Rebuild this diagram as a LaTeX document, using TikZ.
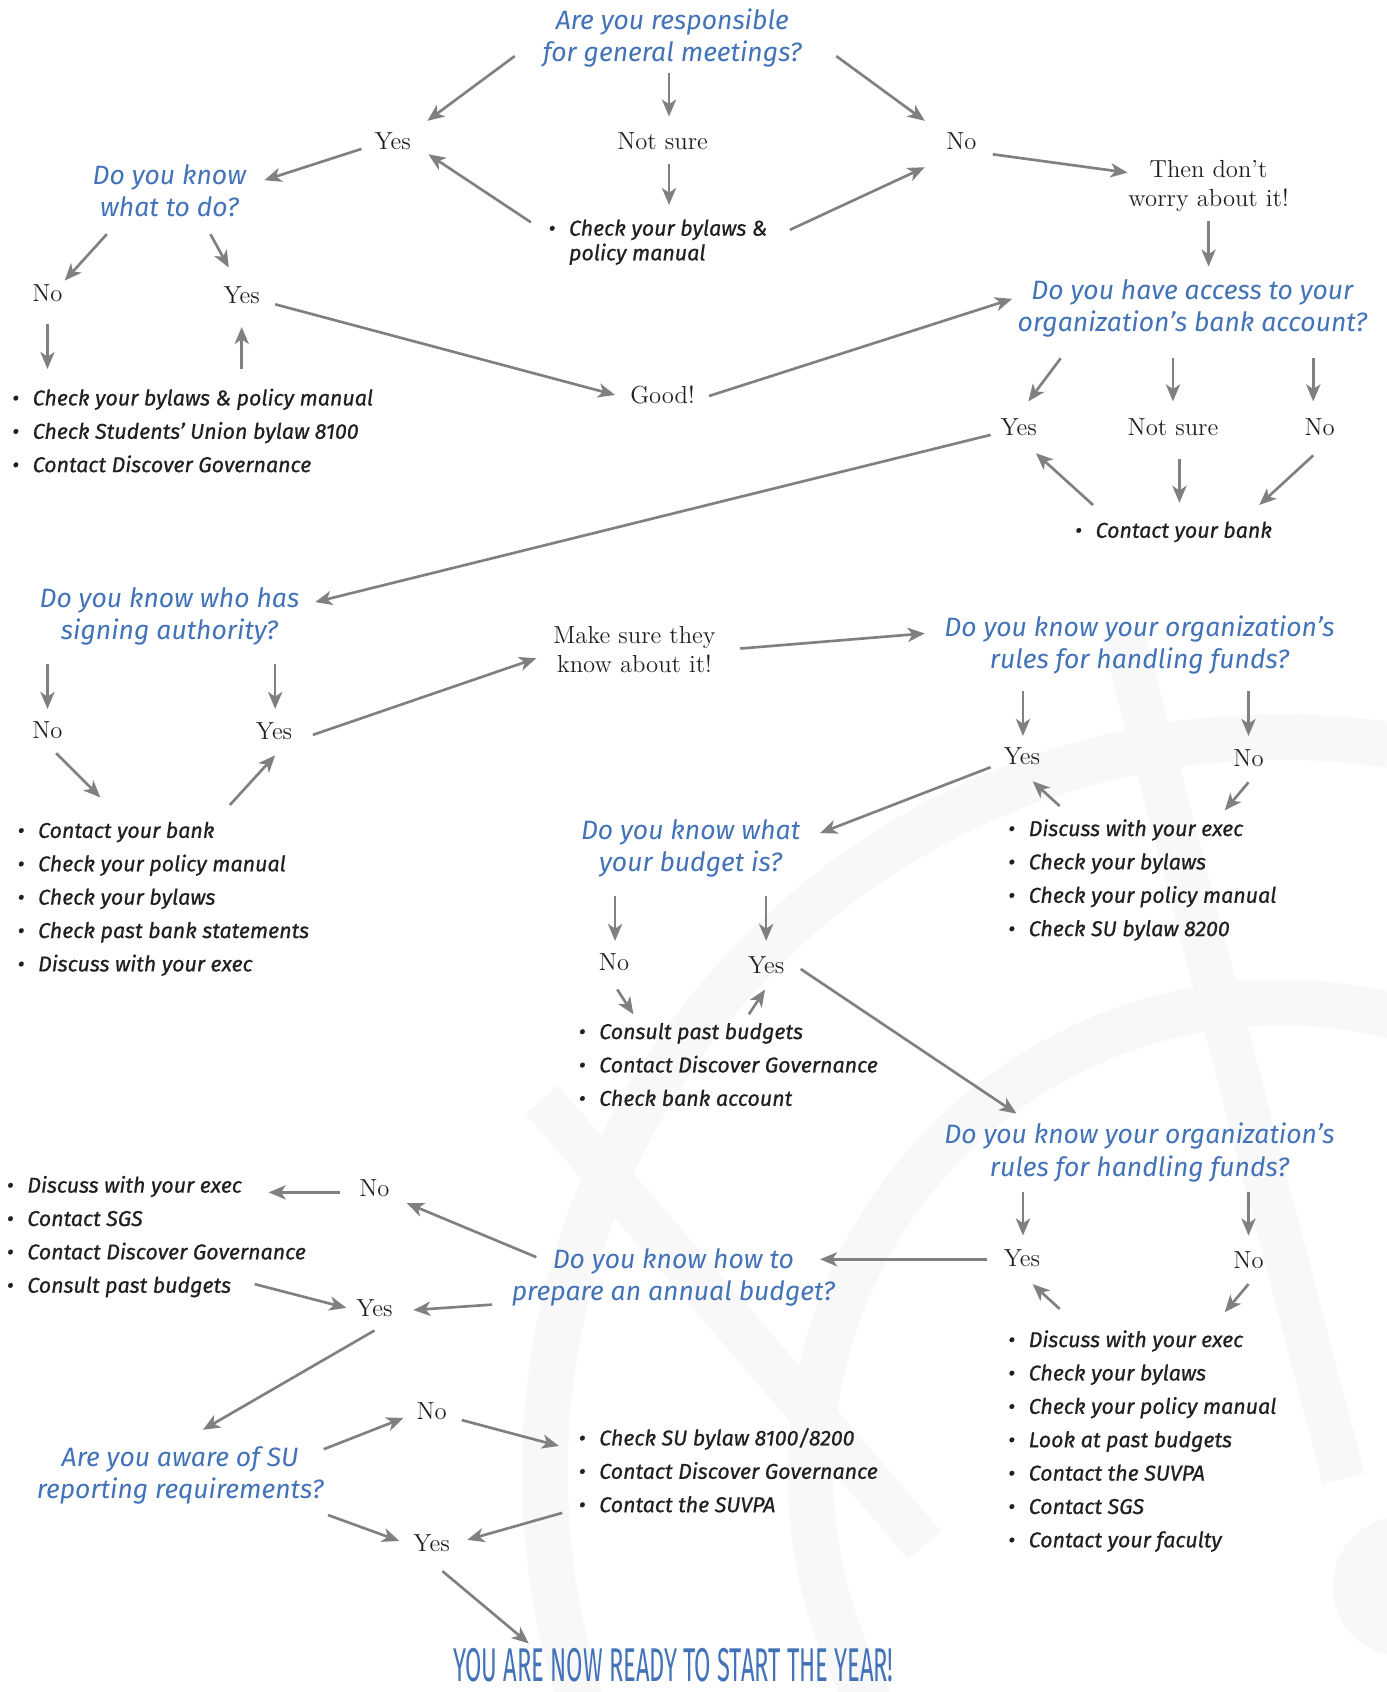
\documentclass[tikz,border=0pt]{standalone}
\usepackage{fontspec}
\usepackage{tikz}
\usetikzlibrary{arrows.meta,calc}

\newfontfamily\qfont{Fira Sans}
\newfontfamily\itemfont{Fira Sans}[FakeBold=0.8]
\newfontfamily\endfont{Fira Sans}[FakeStretch=0.5]

\definecolor{qblue}{RGB}{66,114,184}
\definecolor{arrgray}{RGB}{128,128,128}
\definecolor{tdark}{RGB}{35,31,32}
\definecolor{wmgray}{RGB}{248,248,248}

\newcommand{\itm}[1]{\makebox[0.38cm][l]{\textbullet}#1}

\tikzset{
  question/.style={font=\qfont\itshape\fontsize{14}{17}\selectfont, text=qblue, align=center, inner sep=0pt},
  answer/.style={font=\fontsize{13}{15.4}\selectfont, text=tdark, align=center, inner sep=0pt},
  todo/.style={font=\itemfont\itshape\fontsize{11.3}{17.6}\selectfont, text=tdark, align=left, anchor=west, inner sep=0pt},
  arr/.style={draw=arrgray, line width=1.4pt, -{Stealth[length=9pt,width=7.5pt,inset=2.5pt]}},
  wm/.style={draw=wmgray, line width=0.85cm}
}

\begin{document}
\begin{tikzpicture}[x=0.02cm, y=-0.02cm]
\useasboundingbox (0,0) rectangle (1285,1568);

% faint logo in the background
\begin{scope}
  \clip (0,0) rectangle (1285,1568);
  \draw[wm] (1187,1365) circle[radius=682];
  \draw[wm] (1187,1365) circle[radius=436];
  \draw[wm, line width=0.8cm] (1040,585) -- (1245,1370);
  \draw[wm, line width=0.8cm] (502,1019) -- (857,1432);
  \fill[wmgray] (1300,1470) circle[radius=65];
\end{scope}

% general meetings
\node[question] (q1) at (623,35) {Are you responsible\\for general meetings?};
\node[answer] (yesA) at (364,131) {Yes};
\node[answer] (notA) at (614,131) {Not sure};
\node[answer] (noA) at (891,131) {No};
\node[todo, font=\itemfont\itshape\fontsize{11.3}{13}\selectfont] (chkA) at (508,224.5) {\itm{Check your bylaws \&}\\\hspace*{0.38cm}policy manual};
\node[answer] (thenA) at (1120,172) {Then don’t\\worry about it!};
\node[question] (q2) at (157,177) {Do you know\\what to do?};
\node[answer] (noB) at (44,272) {No};
\node[answer] (yesB) at (224,274) {Yes};
\node[todo] (listB) at (11,399) {\itm{Check your bylaws \& policy manual}\\\itm{Check Students’ Union bylaw 8100}\\\itm{Contact Discover Governance}};
\node[answer] (good) at (614,366) {Good!};

% bank account
\node[question] (q3) at (1105,286) {Do you have access to your\\organization’s bank account?};
\node[answer] (yesC) at (944,396) {Yes};
\node[answer] (notC) at (1087,396) {Not sure};
\node[answer] (noC) at (1223,396) {No};
\node[todo] (bankC) at (996,493) {\itm{Contact your bank}};

% signing authority
\node[question] (q4) at (157,571) {Do you know who has\\signing authority?};
\node[answer] (noD) at (44,677) {No};
\node[answer] (yesD) at (254,678) {Yes};
\node[todo] (listD) at (16,833) {\itm{Contact your bank}\\\itm{Check your policy manual}\\\itm{Check your bylaws}\\\itm{Check past bank statements}\\\itm{Discuss with your exec}};
\node[answer] (sure) at (588,602) {Make sure they\\know about it!};

% handling funds
\node[question] (q5) at (1056,598) {Do you know your organization’s\\rules for handling funds?};
\node[answer] (yesE) at (947,701) {Yes};
\node[answer] (noE) at (1157,703) {No};
\node[todo] (listE) at (934,815.5) {\itm{Discuss with your exec}\\\itm{Check your bylaws}\\\itm{Check your policy manual}\\\itm{Check SU bylaw 8200}};

% budget
\node[question] (q6) at (640,786) {Do you know what\\your budget is?};
\node[answer] (noF) at (569,892) {No};
\node[answer] (yesF) at (710,894) {Yes};
\node[todo] (listF) at (536,986.5) {\itm{Consult past budgets}\\\itm{Contact Discover Governance}\\\itm{Check bank account}};

\node[question] (q7) at (1056,1068) {Do you know your organization’s\\rules for handling funds?};
\node[answer] (yesG) at (947,1166) {Yes};
\node[answer] (noG) at (1157,1168) {No};
\node[todo] (listG) at (934,1335.5) {\itm{Discuss with your exec}\\\itm{Check your bylaws}\\\itm{Check your policy manual}\\\itm{Look at past budgets}\\\itm{Contact the SUVPA}\\\itm{Contact SGS}\\\itm{Contact your faculty}};

% annual budget
\node[question] (q8) at (624,1184) {Do you know how to\\prepare an annual budget?};
\node[answer] (noH) at (347,1101) {No};
\node[answer] (yesH) at (347,1212) {Yes};
\node[todo] (listH) at (6,1146) {\itm{Discuss with your exec}\\\itm{Contact SGS}\\\itm{Contact Discover Governance}\\\itm{Consult past budgets}};

% reporting
\node[question] (q9) at (167,1367) {Are you aware of SU\\reporting requirements?};
\node[answer] (noI) at (400,1308) {No};
\node[answer] (yesI) at (400,1430) {Yes};
\node[todo] (listI) at (536,1362.5) {\itm{Check SU bylaw 8100/8200}\\\itm{Contact Discover Governance}\\\itm{Contact the SUVPA}};

\node[font=\endfont\fontsize{25}{28}\selectfont, text=qblue, inner sep=0pt] (ready) at (624,1543) {YOU ARE NOW READY TO START THE YEAR!};

% connectors
\draw[arr] ($(q1)+(-146,17)$) -- ($(yesA)+(32,-19)$);
\draw[arr] ($(q1)+(-3,33)$) -- ($(notA)+(6,-23)$);
\draw[arr] ($(q1)+(152,17)$) -- ($(noA)+(-34,-19)$);
\draw[arr] ($(notA)+(6,21)$) -- ($(chkA.west)+(112,-34.5)$);
\draw[arr] ($(chkA.west)+(-16,-18.5)$) -- ($(yesA)+(33,12)$);
\draw[arr] ($(chkA.west)+(224,-11.5)$) -- ($(noA)+(-34,24)$);
\draw[arr] ($(yesA)+(-29,7)$) -- ($(q2)+(88,-10)$);
\draw[arr] ($(noA)+(29,12)$) -- ($(thenA)+(-75,-12)$);
\draw[arr] ($(thenA)+(0,33)$) -- ($(q3)+(15,-39)$);
\draw[arr] ($(q2)+(-58,40)$) -- ($(noB)+(16,-12)$);
\draw[arr] ($(q2)+(38,40)$) -- ($(yesB)+(-12,-26)$);
\draw[arr] ($(noB)+(0,28)$) -- ($(listB.west)+(33,-57)$);
\draw[arr] ($(listB.west)+(213,-57)$) -- ($(yesB)+(0,29)$);
\draw[arr] ($(yesB)+(31,8)$) -- ($(good)+(-44,0)$);
\draw[arr] ($(good)+(43,1)$) -- ($(q3)+(-167,-9)$);

\draw[arr] ($(q3)+(-122,46)$) -- ($(yesC)+(9,-24)$);
\draw[arr] ($(q3)+(-18,46)$) -- ($(notC)+(0,-24)$);
\draw[arr] ($(q3)+(112,46)$) -- ($(noC)+(-6,-24)$);
\draw[arr] ($(bankC.west)+(17,-25)$) -- ($(yesC)+(16,24)$);
\draw[arr] ($(notC)+(6,29)$) -- ($(bankC.west)+(97,-27)$);
\draw[arr] ($(noC)+(-6,26)$) -- ($(bankC.west)+(171,-25)$);
\draw[arr] ($(yesC)+(-26,7)$) -- ($(q4)+(135,-13)$);

\draw[arr] ($(q4)+(-113,44)$) -- ($(noD)+(0,-20)$);
\draw[arr] ($(q4)+(98,44)$) -- ($(yesD)+(1,-21)$);
\draw[arr] ($(noD)+(8,21)$) -- ($(listD.west)+(77,-94)$);
\draw[arr] ($(listD.west)+(197,-87)$) -- ($(yesD)+(1,22)$);
\draw[arr] ($(yesD)+(36,3)$) -- ($(sure)+(-91,8)$);
\draw[arr] ($(sure)+(98,-1)$) -- ($(q5)+(-199,-11)$);

\draw[arr] ($(q5)+(-108,42)$) -- ($(yesE)+(1,-19)$);
\draw[arr] ($(q5)+(101,42)$) -- ($(noE)+(0,-21)$);
\draw[arr] ($(listE.west)+(48,-68.5)$) -- ($(yesE)+(10,23)$);
\draw[arr] ($(noE)+(0,22)$) -- ($(listE.west)+(201,-64.5)$);
\draw[arr] ($(yesE)+(-29,10)$) -- ($(q6)+(120,-14)$);

\draw[arr] ($(q6)+(-70,44)$) -- ($(noF)+(1,-20)$);
\draw[arr] ($(q6)+(70,44)$) -- ($(yesF)+(0,-22)$);
\draw[arr] ($(noF)+(3,25)$) -- ($(listF.west)+(51,-46.5)$);
\draw[arr] ($(listF.west)+(158,-46.5)$) -- ($(yesF)+(-1,23)$);
\draw[arr] ($(yesF)+(32,4)$) -- ($(q7)+(-114,-36)$);

\draw[arr] ($(q7)+(-108,37)$) -- ($(yesG)+(1,-21)$);
\draw[arr] ($(q7)+(101,37)$) -- ($(noG)+(0,-23)$);
\draw[arr] ($(listG.west)+(48,-122.5)$) -- ($(yesG)+(10,24)$);
\draw[arr] ($(noG)+(0,22)$) -- ($(listG.west)+(201,-119.5)$);
\draw[arr] ($(yesG)+(-32,1)$) -- ($(q8)+(136,-17)$);

\draw[arr] ($(q8)+(-127,-19)$) -- ($(noH)+(30,14)$);
\draw[arr] ($(noH)+(-32,4)$) -- ($(listH.west)+(243,-41)$);
\draw[arr] ($(listH.west)+(230,44)$) -- ($(yesH)+(-26,0)$);
\draw[arr] ($(q8)+(-168,25)$) -- ($(yesH)+(36,2)$);
\draw[arr] ($(yesH)+(0,21)$) -- ($(q9)+(21,-42)$);

\draw[arr] ($(q9)+(133,-24)$) -- ($(noI)+(-26,6)$);
\draw[arr] ($(noI)+(28,8)$) -- ($(listI.west)+(-18,-22.5)$);
\draw[arr] ($(listI.west)+(-15,39.5)$) -- ($(yesI)+(33,-3)$);
\draw[arr] ($(q9)+(137,37)$) -- ($(yesI)+(-30,-2)$);
\draw[arr] ($(yesI)+(10,26)$) -- ($(ready)+(-134,-20)$);
\end{tikzpicture}
\end{document}
